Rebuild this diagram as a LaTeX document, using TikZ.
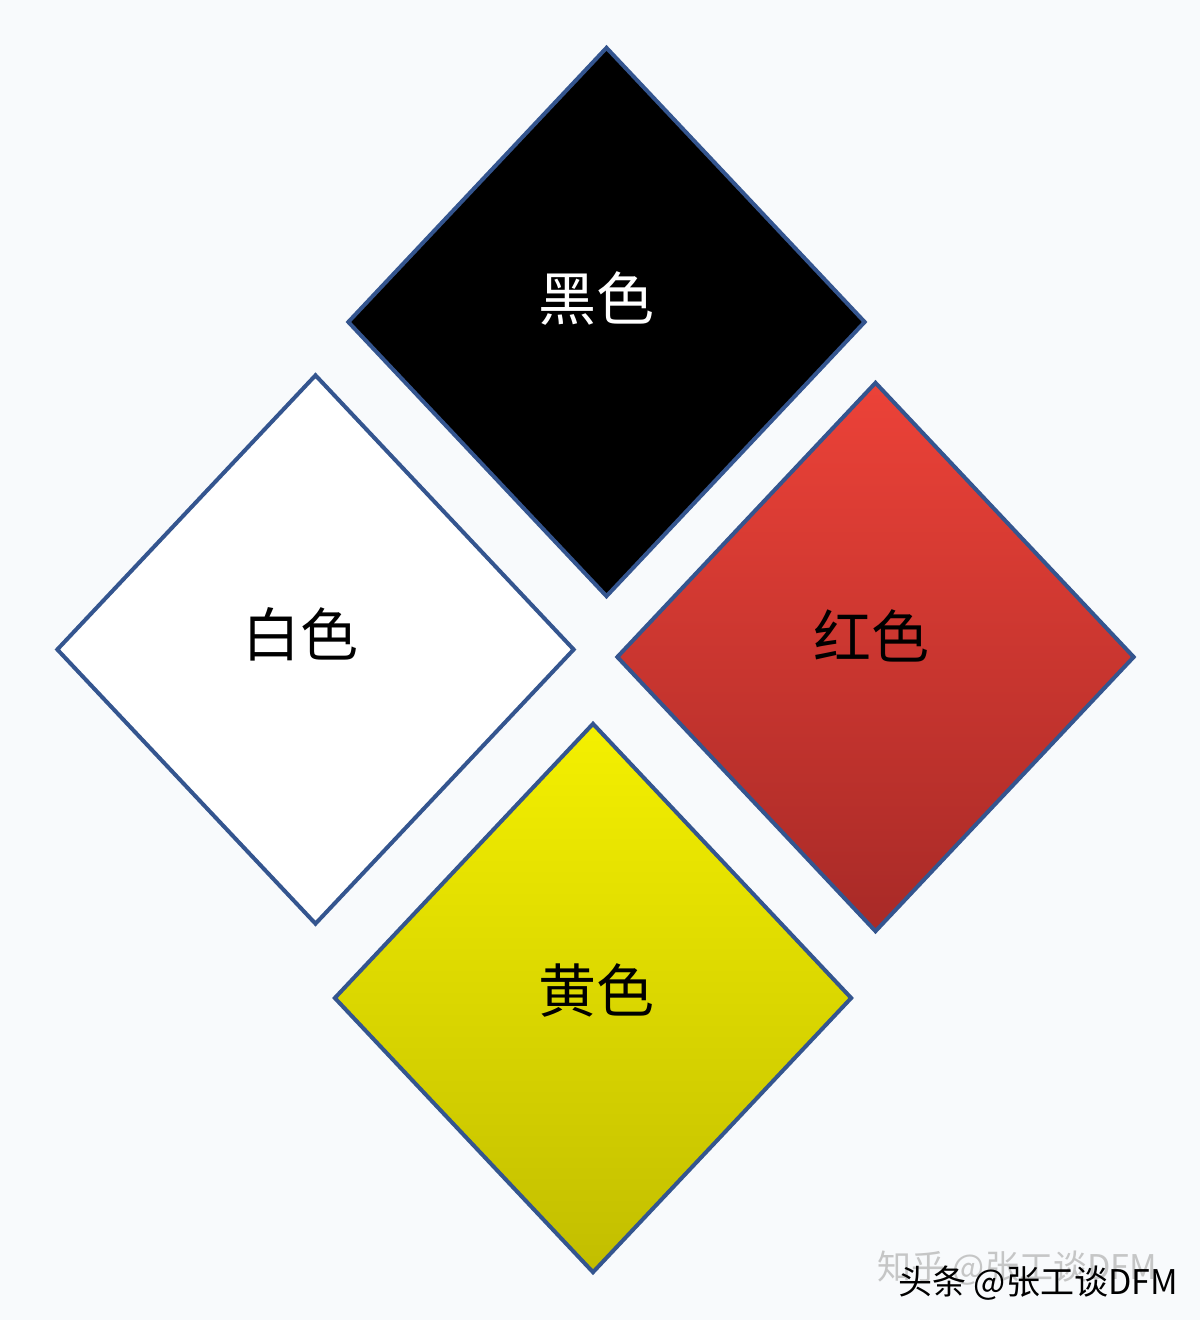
\documentclass[tikz,border=0pt]{standalone}
\usepackage{fontspec}
\setmainfont{Noto Sans CJK SC}
\usetikzlibrary{shapes.geometric, positioning}

\definecolor{bgcol}{HTML}{F8FAFC}
\definecolor{edgeblue}{HTML}{34558F}
\definecolor{redtop}{HTML}{EC4238}
\definecolor{redbot}{HTML}{A82A27}
\definecolor{yeltop}{HTML}{F4F000}
\definecolor{yelbot}{HTML}{C2BE00}

\begin{document}
\begin{tikzpicture}[x=0.5pt, y=-0.5pt,
    tile/.style = {diamond, draw = edgeblue, line width = 2pt, inner sep = 0pt,
                   minimum width = 259pt, minimum height = 275pt},
    lbl/.style = {font = \fontsize{29}{34}\selectfont, inner sep = 0pt},
    wmark/.style = {font = \fontsize{17}{20}\selectfont, inner sep = 0pt}]
						% background and frame of the page
						\fill[bgcol] (0,0) rectangle (1200,1320);
						\useasboundingbox (0,0) rectangle (1200,1320);
						% the four tiles
						\node[tile, fill = black] (black) at (606.5,322) {};
						\node[tile, fill = white] (white) at (315.5,649.5) {};
						\node[tile, top color = redtop, bottom color = redbot] (red) at (875.5,657) {};
						\node[tile, top color = yeltop, bottom color = yelbot] (yellow) at (593,998) {};
						% their names
						\node[lbl, text = white] (blacklbl) at (596,298) {黑色};
						\node[lbl] (whitelbl) at (300,634) {白色};
						\node[lbl] (redlbl) at (871,636) {红色};
						\node[lbl] (yellowlbl) at (596,990) {黄色};
						% marks in the corner
						\node[wmark, text = gray!55, opacity = 0.8] (markone) at (1017,1268) {知乎 @张工谈DFM};
						\node[wmark, text = black] (marktwo) at (1038,1283) {头条 @张工谈DFM};
				\end{tikzpicture}
\end{document}
